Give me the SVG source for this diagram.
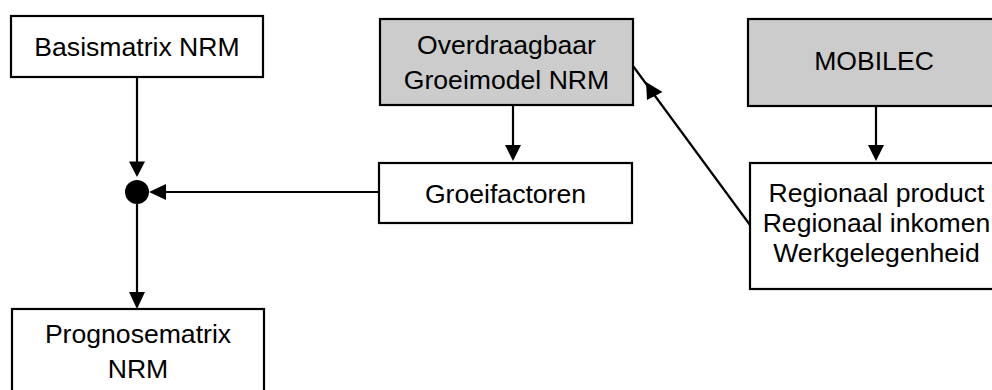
<svg xmlns="http://www.w3.org/2000/svg" width="992" height="390" viewBox="0 0 992 390">
<style>
.box{fill:#ffffff;stroke:#000000;stroke-width:2.2}
.grey{fill:#cccccc}
.t{font-family:"Liberation Sans",Arial,sans-serif;font-size:26.6px;fill:#000000;text-anchor:middle}
.ln{stroke:#000000;stroke-width:2.2;fill:none}
.ah{fill:#000000;stroke:none}
</style>
<rect width="992" height="390" fill="#ffffff"/>
<g id="basismatrix">
<rect class="box" x="11" y="16" width="252" height="61"/>
<text class="t" x="137" y="56">Basismatrix NRM</text>
</g>
<g id="overdraagbaar">
<rect class="box grey" x="380" y="19" width="253" height="86"/>
<text class="t" x="506.5" y="54">Overdraagbaar</text>
<text class="t" x="506.5" y="89">Groeimodel NRM</text>
</g>
<g id="mobilec">
<rect class="box grey" x="748" y="19" width="253" height="87"/>
<text class="t" x="874" y="70">MOBILEC</text>
</g>
<g id="groeifactoren">
<rect class="box" x="379" y="163" width="253" height="60"/>
<text class="t" x="505.5" y="203">Groeifactoren</text>
</g>
<g id="regionaal">
<rect class="box" x="750" y="163" width="253" height="126"/>
<text class="t" x="876.5" y="201.5">Regionaal product</text>
<text class="t" x="876.5" y="231.5">Regionaal inkomen</text>
<text class="t" x="876.5" y="261.5">Werkgelegenheid</text>
</g>
<g id="prognosematrix">
<rect class="box" x="12" y="309" width="252" height="90"/>
<text class="t" x="138" y="343">Prognosematrix</text>
<text class="t" x="138" y="378">NRM</text>
</g>
<g id="connectors">
<line class="ln" x1="137" y1="77" x2="137" y2="165"/>
<polygon class="ah" points="129,161.5 145,161.5 137,177"/>
<circle cx="137" cy="192" r="12" fill="#000000"/>
<line class="ln" x1="379" y1="192" x2="160" y2="192"/>
<polygon class="ah" points="149,192 166,184 166,200"/>
<line class="ln" x1="137" y1="204" x2="137" y2="296"/>
<polygon class="ah" points="129,292 145,292 137,309"/>
<line class="ln" x1="513" y1="105" x2="513" y2="148"/>
<polygon class="ah" points="505,145 521,145 513,161"/>
<line class="ln" x1="876" y1="106" x2="876" y2="148"/>
<polygon class="ah" points="868,145 884,145 876,161"/>
<line class="ln" x1="750" y1="225" x2="633" y2="66"/>
<polygon class="ah" points="646,82 662.5,92 647,100"/>
</g>
</svg>
